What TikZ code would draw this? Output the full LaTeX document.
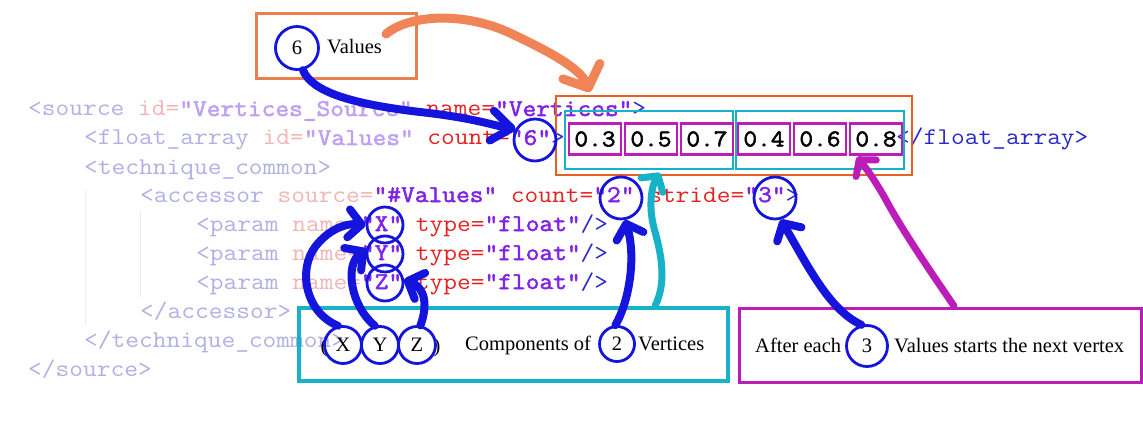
\documentclass[tikz,border=0pt]{standalone}
\usepackage{fontspec}
\setmainfont{Liberation Serif}
\setmonofont{Latin Modern Mono}[FakeStretch=1.111, BoldFont={Latin Modern Mono}, BoldFeatures={FakeBold=2.2}]
\usetikzlibrary{arrows.meta}
\definecolor{ftag}{RGB}{176,176,230}
\definecolor{fatt}{RGB}{242,180,180}
\definecolor{fval}{RGB}{192,160,242}
\definecolor{ctag}{RGB}{40,40,205}
\definecolor{catt}{RGB}{228,32,32}
\definecolor{cval}{RGB}{128,36,232}
\definecolor{annblue}{RGB}{20,20,220}
\definecolor{annorange}{RGB}{232,128,78}
\definecolor{curveorange}{RGB}{240,132,86}
\definecolor{boxorange}{RGB}{230,96,36}
\definecolor{anncyan}{RGB}{24,178,200}
\definecolor{annmag}{RGB}{188,28,184}
\definecolor{guide}{RGB}{236,236,236}
\newcommand{\codefnt}{\ttfamily\fontsize{24}{28}\selectfont}
\newcommand{\serfnt}{\rmfamily\fontsize{20.5}{24}\selectfont}
\newcommand{\xTagF}[1]{\textcolor{ftag}{#1}}
\newcommand{\xAttF}[1]{\textcolor{fatt}{#1}}
\newcommand{\xValF}[1]{\textcolor{fval}{\bfseries #1}}
\newcommand{\xTag}[1]{\textcolor{ctag}{#1}}
\newcommand{\xAtt}[1]{\textcolor{catt}{#1}}
\newcommand{\xVal}[1]{\textcolor{cval}{\bfseries #1}}
\tikzset{
  code/.style={anchor=base west, inner sep=0pt, font=\codefnt},
  lbl/.style={anchor=base west, inner sep=0pt, font=\serfnt},
  ring/.style={circle, draw=annblue, line width=2.8pt, inner sep=0pt, font=\serfnt},
  valbox/.style={draw=annmag, line width=2.4pt, minimum width=52pt, minimum height=31pt, inner sep=0pt, font=\codefnt\bfseries},
  grpbox/.style={draw=anncyan, line width=2.4pt, minimum width=168pt, minimum height=58pt, inner sep=0pt},
  blueline/.style={draw=annblue, line width=8pt, line cap=round, line join=round, -{Straight Barb[length=13pt,width=28pt,round]}},
  orangeline/.style={draw=curveorange, line width=9pt, line cap=round, line join=round, -{Straight Barb[length=18pt,width=40pt,round]}},
  cyanline/.style={draw=anncyan, line width=7pt, line cap=round, line join=round, -{Straight Barb[length=11pt,width=26pt,round]}},
  magline/.style={draw=annmag, line width=7pt, line cap=round, line join=round, -{Straight Barb[length=11pt,width=26pt,round]}},
}
\begin{document}
\begin{tikzpicture}[x=1pt, y=-1pt]
\useasboundingbox (0,0) rectangle (1143,425);
\fill[white] (0,0) rectangle (1143,425);
% indentation guides
\draw[guide, line width=1pt] (85,190) -- (85,325);
\draw[guide, line width=1pt] (140,212) -- (140,297);
% code
\node[code] (l1) at (28,116) {\xTagF{<source} \xAttF{id=}\xValF{"Vertices\_Source"} \xAtt{name=}\xVal{"Vertices"}\xTag{>}};
\node[code] (l2) at (84,145) {\xTagF{<float\_array} \xAttF{id=}\xValF{"Values"} \xAtt{count=}\xVal{"6"}\xTag{>}};
\node[code] (l2b) at (896,145) {\xTag{</float\_array>}};
\node[code] (l3) at (84,174) {\xTagF{<technique\_common>}};
\node[code] (l4) at (140,202) {\xTagF{<accessor} \xAttF{source=}\xVal{"\#Values"} \xAtt{count=}\xVal{"2"} \xAtt{stride=}\xVal{"3"}\xTag{>}};
\node[code] (l5) at (196,231) {\xTagF{<param} \xAttF{name=}\xVal{"X"} \xAtt{type=}\xVal{"float"}\xTag{/>}};
\node[code] (l6) at (196,260) {\xTagF{<param} \xAttF{name=}\xVal{"Y"} \xAtt{type=}\xVal{"float"}\xTag{/>}};
\node[code] (l7) at (196,289) {\xTagF{<param} \xAttF{name=}\xVal{"Z"} \xAtt{type=}\xVal{"float"}\xTag{/>}};
\node[code] (l8) at (140,318) {\xTagF{</accessor>}};
\node[code] (l9) at (84,347) {\xTagF{</technique\_common>}};
\node[code] (l10) at (28,376) {\xTagF{</source>}};
% array boxes
\node[draw=boxorange, line width=2.5pt, minimum width=356pt, minimum height=79pt] (ob) at (734,135.5) {};
\node[grpbox] (g1) at (649,140) {};
\node[grpbox] (g2) at (820,140) {};
\node[valbox] (v1) at (595,139) {0.3};
\node[valbox] (v2) at (651,139) {0.5};
\node[valbox] (v3) at (707,139) {0.7};
\node[valbox] (v4) at (764,139) {0.4};
\node[valbox] (v5) at (820,139) {0.6};
\node[valbox] (v6) at (876,139) {0.8};
% top label box
\node[draw=annorange, line width=3pt, minimum width=160pt, minimum height=65pt] (tb) at (336,46.5) {};
\node[ring, minimum size=43pt] (c6t) at (297,48) {6};
\node[lbl] (vt) at (327,54) {Values};
% bottom boxes
\node[draw=anncyan, line width=3.2pt, minimum width=429pt, minimum height=73pt] (cb) at (513.5,344.5) {};
\node[draw=annmag, line width=3pt, minimum width=402pt, minimum height=74pt] (mb) at (940,345) {};
\node[anchor=base, inner sep=0pt, font=\serfnt] (lp) at (324,352) {(};
\node[anchor=base, inner sep=0pt, font=\serfnt] (rp) at (437,352) {)};
\node[ring, minimum size=37pt] (xb) at (343,345) {X};
\node[ring, minimum size=37pt] (yb) at (380,345) {Y};
\node[ring, minimum size=37pt] (zb) at (417,345) {Z};
\node[lbl] (comp) at (465,350) {Components of};
\node[ring, minimum size=35pt] (c2b) at (617,344) {2};
\node[lbl] (vert) at (638,350) {Vertices};
\node[lbl] (aft) at (755,352) {After each};
\node[ring, minimum size=41pt] (c3b) at (867,346) {3};
\node[lbl] (vst) at (894,352) {Values starts the next vertex};
% rings in code
\node[ring, minimum size=42pt] (c6c) at (535,140) {};
\node[ring, minimum size=42pt] (c2c) at (621,198) {};
\node[ring, minimum size=42pt] (c3c) at (775,198) {};
\node[ring, minimum size=36pt] (xc) at (385,225) {};
\node[ring, minimum size=36pt] (yc) at (385,254) {};
\node[ring, minimum size=36pt] (zc) at (385,283) {};
% free ends
\coordinate (oS) at (386,34);
\coordinate (oE) at (590,92);
\coordinate (cyS) at (655,306);
\coordinate (cyE) at (660,173);
\coordinate (mgS) at (954,306);
\coordinate (mgE) at (857,157);
% connectors
\draw[orangeline] (oS) .. controls (410,14) and (465,12) .. (510,33) .. controls (550,52) and (580,68) .. (oE);
\draw[blueline, -{Straight Barb[length=20pt,width=30pt,round]}] (c6t.-75) .. controls (312,92) and (352,104) .. (420,112) .. controls (475,118) and (495,126) .. (c6c.150);
\draw[blueline] (xb.105) .. controls (305,312) and (298,270) .. (315,247) .. controls (328,230) and (345,223) .. (xc.180);
\draw[blueline] (yb.105) .. controls (350,305) and (345,265) .. (yc.165);
\draw[blueline] (zb.80) .. controls (428,305) and (425,288) .. (zc.10);
\draw[blueline] (c2b.95) .. controls (630,300) and (636,255) .. (c2c.-80);
\draw[blueline] (c3b.105) .. controls (830,310) and (810,270) .. (c3c.-75);
\draw[cyanline] (cyS) .. controls (668,280) and (660,250) .. (654,228) .. controls (648,205) and (652,185) .. (cyE);
\draw[magline] (mgS) .. controls (935,278) and (905,235) .. (886,200) .. controls (876,182) and (866,168) .. (mgE);
\end{tikzpicture}
\end{document}
